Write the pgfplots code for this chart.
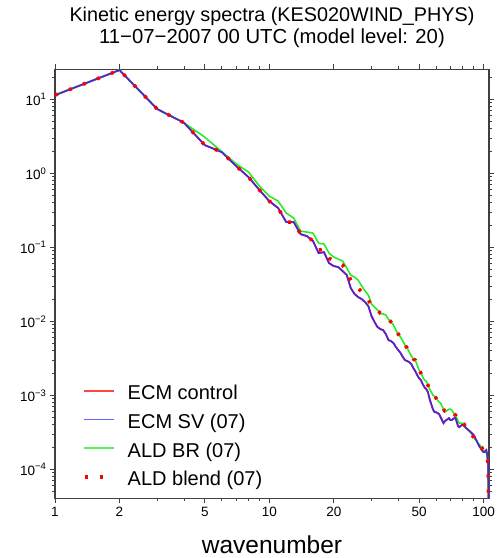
\documentclass[border=0pt]{standalone}
\usepackage{fontspec}
\setmainfont{Liberation Sans}
\usepackage{pgfplots}
\usepackage{pgfplotstable}
\pgfplotsset{compat=1.18}
\definecolor{ctlred}{RGB}{255,40,40}
\definecolor{svblue}{RGB}{70,40,220}
\definecolor{brgreen}{RGB}{40,235,40}
\definecolor{legred}{RGB}{255,70,70}
\definecolor{legblue}{RGB}{100,100,255}
\definecolor{leggreen}{RGB}{90,240,90}

\pgfplotstableread{
k ctl sv br bl
1 11.4 11.4 11.4 11.4
2 24.9 24.9 24.9 24.9
3 7.4 7.4 7.4 7.4
4 4.83 4.83 4.83 4.83
5 2.41 2.41 3.09 2.41
6 1.94 1.94 1.97 1.94
7 1.26 1.26 1.35 1.26
8 0.891 0.891 1.04 0.891
9 0.595 0.595 0.674 0.595
10 0.422 0.422 0.493 0.422
11 0.340 0.340 0.422 0.340
12 0.220 0.220 0.291 0.220
13 0.220 0.220 0.249 0.220
14 0.151 0.151 0.166 0.151
15 0.142 0.142 0.161 0.142
16 0.122 0.122 0.156 0.122
17 0.0837 0.0837 0.114 0.0920
18 0.0863 0.0863 0.111 0.0948
19 0.0614 0.0614 0.0837 0.0718
20 0.0559 0.0559 0.0740 0.0653
21 0.0542 0.0542 0.0695 0.0614
22 0.0478 0.0478 0.0653 0.0577
23 0.0422 0.0422 0.0525 0.0464
24 0.0282 0.0282 0.0422 0.0361
25 0.0234 0.0234 0.0397 0.0310
26 0.0213 0.0213 0.0361 0.0282
27 0.0200 0.0200 0.0300 0.0249
28 0.0182 0.0182 0.0257 0.0220
29 0.0161 0.0161 0.0226 0.0194
30 0.0118 0.0118 0.0171 0.0166
31 0.00979 0.00979 0.0156 0.0156
32 0.00838 0.00838 0.0142 0.0142
33 0.00787 0.00787 0.0129 0.0129
34 0.00763 0.00763 0.0126 0.0126
35 0.00673 0.00673 0.0122 0.0122
36 0.00559 0.00559 0.0107 0.0107
37 0.00542 0.00542 0.00979 0.00979
38 0.00509 0.00509 0.00892 0.00892
39 0.00450 0.00450 0.00763 0.00763
40 0.00409 0.00409 0.00673 0.00673
41 0.00373 0.00373 0.00613 0.00613
42 0.00330 0.00330 0.00542 0.00542
43 0.00300 0.00300 0.00478 0.00478
44 0.00291 0.00291 0.00436 0.00436
45 0.00282 0.00282 0.00385 0.00385
46 0.00265 0.00265 0.00340 0.00340
47 0.00234 0.00234 0.00310 0.00310
48 0.00213 0.00213 0.00300 0.00300
49 0.00188 0.00188 0.00257 0.00257
50 0.00171 0.00171 0.00220 0.00220
51 0.00161 0.00161 0.00200 0.00200
52 0.00142 0.00142 0.00177 0.00177
53 0.00129 0.00129 0.00161 0.00161
54 0.00122 0.00122 0.00156 0.00156
55 0.00111 0.00111 0.00138 0.00138
56 0.000891 0.000891 0.00122 0.00122
57 0.000762 0.000762 0.00111 0.00111
58 0.000653 0.000653 0.00101 0.00101
59 0.000594 0.000594 0.000979 0.000979
60 0.000594 0.000594 0.000920 0.000920
61 0.000576 0.000576 0.000864 0.000864
62 0.000559 0.000559 0.000811 0.000811
63 0.000509 0.000509 0.000786 0.000786
64 0.000464 0.000464 0.000716 0.000716
65 0.000422 0.000422 0.000653 0.000653
66 0.000449 0.000449 0.000614 0.000614
67 0.000464 0.000464 0.000614 0.000614
68 0.000478 0.000478 0.000633 0.000633
69 0.000493 0.000493 0.000653 0.000653
70 0.000464 0.000464 0.000653 0.000653
71 0.000464 0.000464 0.000633 0.000633
72 0.000478 0.000478 0.000594 0.000594
73 0.000493 0.000493 0.000559 0.000559
74 0.000493 0.000493 0.000542 0.000542
75 0.000436 0.000436 0.000493 0.000493
76 0.000385 0.000385 0.000449 0.000449
77 0.000373 0.000373 0.000422 0.000422
78 0.000385 0.000385 0.000422 0.000422
79 0.000397 0.000397 0.000422 0.000422
80 0.000397 0.000397 0.000422 0.000422
81 0.000397 0.000397 0.000409 0.000409
82 0.000373 0.000373 0.000385 0.000385
83 0.000361 0.000361 0.000361 0.000361
84 0.000351 0.000351 0.000351 0.000351
85 0.000340 0.000340 0.000340 0.000340
86 0.000330 0.000330 0.000330 0.000330
87 0.000319 0.000319 0.000319 0.000319
88 0.000310 0.000310 0.000300 0.000300
89 0.000300 0.000300 0.000282 0.000282
90 0.000291 0.000291 0.000273 0.000273
91 0.000273 0.000273 0.000256 0.000256
92 0.000256 0.000256 0.000249 0.000249
93 0.000241 0.000241 0.000241 0.000241
94 0.000226 0.000226 0.000226 0.000226
95 0.000213 0.000213 0.000220 0.000220
96 0.000200 0.000200 0.000213 0.000213
97 0.000194 0.000194 0.000206 0.000206
98 0.000182 0.000182 0.000200 0.000200
99 0.000177 0.000177 0.000188 0.000188
100 0.000171 0.000171 0.000182 0.000182
101 0.000171 0.000171 0.000177 0.000177
102 0.000177 0.000177 0.000177 0.000177
103 0.000182 0.000182 0.000171 0.000171
104 0.000156 0.000156 0.000147 0.000147
105 0.000118 0.000118 0.000118 0.000118
106 0.00001 0.00001 0.00001 0.00001
}\spectra

\begin{document}
\begin{tikzpicture}[x=1pt,y=1pt]
\path[use as bounding box] (-55,-59.7) rectangle (442,498.3);
\begin{axis}[
  at={(0,0)}, anchor=south west,
  scale only axis, width=434pt, height=429pt,
  xmode=log, ymode=log,
  xmin=1, xmax=106, ymin=4.07e-5, ymax=25.5,
  xtick={1,2,5,10,20,50,100},
  xticklabels={1,2,5,10,20,50,100},
  minor xtick={3,4,6,7,8,9,30,40,60,70,80,90},
  ytick={1e-4,1e-3,1e-2,1e-1,1,10},
  yticklabels={10\textsuperscript{−4},10\textsuperscript{−3},10\textsuperscript{−2},10\textsuperscript{−1},10\textsuperscript{0},10\textsuperscript{1}},
  minor ytick={5e-5,6e-5,7e-5,8e-5,9e-5,
    2e-4,3e-4,4e-4,5e-4,6e-4,7e-4,8e-4,9e-4,
    2e-3,3e-3,4e-3,5e-3,6e-3,7e-3,8e-3,9e-3,
    2e-2,3e-2,4e-2,5e-2,6e-2,7e-2,8e-2,9e-2,
    0.2,0.3,0.4,0.5,0.6,0.7,0.8,0.9,
    2,3,4,5,6,7,8,9,20},
  tick align=outside,
  major tick length=5pt, minor tick length=3pt,
  every tick/.style={black!75, line width=0.8pt},
  axis line style={black!75, line width=1.3pt},
  ticklabel style={font=\fontsize{13.5}{16}\selectfont},
  xlabel={wavenumber},
  xlabel style={font=\fontsize{24.5}{28}\selectfont, at={(axis description cs:0.5,0)}, anchor=base, yshift=-55pt},
  legend cell align=left,
  legend style={draw=none, fill=none, inner sep=0pt,
    at={(axis description cs:0.063,0.142)}, anchor=west,
    font=\fontsize{20}{24}\selectfont,
    nodes={inner sep=1pt, text height=15pt, text depth=4pt},
    row sep=7.6pt,
    /tikz/every odd column/.append style={column sep=10.7pt}},
  legend image code/.code={\draw[#1] (0pt,3.5pt) -- (30pt,3.5pt);},
]
\addlegendimage{color=legred, line width=1.5pt}
\addlegendimage{color=legblue, line width=1.5pt}
\addlegendimage{color=leggreen, line width=1.5pt}
\addlegendimage{color=red, line width=3.5pt, dash pattern=on 3pt off 12pt, dash phase=14.1pt}
\addplot[ctlred, line width=1.8pt, forget plot] table[x=k, y=ctl] {\spectra};
\addplot[brgreen, line width=1.6pt, forget plot] table[x=k, y=br] {\spectra};
\addplot[svblue, line width=1.6pt, forget plot] table[x=k, y=sv] {\spectra};
\addplot[red, line width=3.5pt, dash pattern=on 3pt off 12pt, forget plot] table[x=k, y=bl] {\spectra};
\legend{ECM control, ECM SV (07), ALD BR (07), ALD blend (07)}
\end{axis}
\node[anchor=base, font=\fontsize{19.8}{22}\selectfont] at (217,476.6) {Kinetic energy spectra (KES020WIND\_PHYS)};
\node[anchor=base, font=\fontsize{20.3}{24}\selectfont] at (217,455) {11−07−2007 00 UTC (model level: 20)};
\end{tikzpicture}
\end{document}
